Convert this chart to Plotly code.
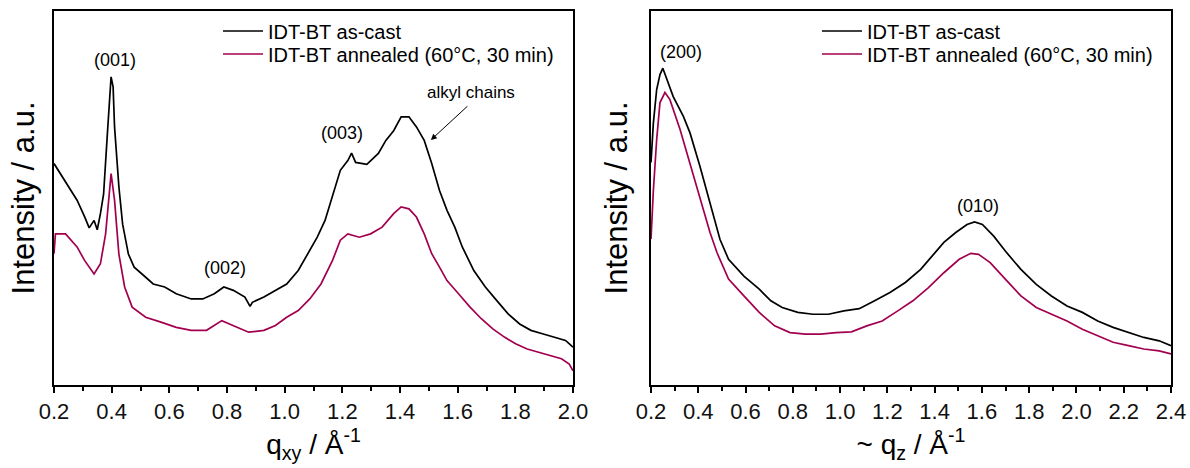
import plotly.graph_objects as go

# ---------------- data (arbitrary intensity units) ----------------
qxy_cast = [0.200, 0.222, 0.253, 0.280, 0.306, 0.322, 0.339, 0.350, 0.361, 0.372, 0.385, 0.398, 0.405,
            0.410, 0.425, 0.438, 0.458, 0.478, 0.518, 0.544, 0.584, 0.624, 0.676, 0.716, 0.756, 0.789,
            0.822, 0.862, 0.880, 0.888, 0.928, 0.968, 1.007, 1.047, 1.074, 1.113, 1.140, 1.166, 1.193,
            1.219, 1.232, 1.246, 1.285, 1.325, 1.351, 1.378, 1.404, 1.431, 1.457, 1.484, 1.510, 1.537, 1.563,
            1.590, 1.616, 1.656, 1.696, 1.735, 1.775, 1.815, 1.854, 1.894, 1.934, 1.974, 2.000]
int_xy_cast = [59.2, 56.5, 53.0, 49.4, 45.0, 42.0, 44.0, 41.5, 45.8, 51.0, 67.0, 82.4, 79.7,
               69.0, 53.0, 43.0, 35.0, 31.5, 28.8, 27.0, 26.2, 24.4, 23.0, 23.0, 24.4, 26.2,
               25.3, 23.5, 21.0, 22.1, 23.5, 25.3, 27.0, 30.6, 34.2, 39.5, 44.0, 50.3, 57.4,
               60.0, 62.0, 59.5, 59.0, 61.9, 65.4, 68.0, 71.7, 71.7, 69.0, 65.4, 59.2, 52.0, 46.7,
               42.2, 36.9, 30.6, 26.2, 22.6, 19.0, 16.3, 14.6, 13.7, 12.8, 11.9, 10.1]

qxy_ann = [0.200, 0.205, 0.240, 0.280, 0.306, 0.339, 0.361, 0.379, 0.398, 0.410, 0.425, 0.445, 0.471,
           0.518, 0.571, 0.624, 0.676, 0.729, 0.782, 0.822, 0.875, 0.928, 0.968, 1.007, 1.047, 1.087,
           1.126, 1.166, 1.193, 1.219, 1.259, 1.298, 1.338, 1.378, 1.404, 1.431, 1.457, 1.484, 1.510,
           1.537, 1.563, 1.603, 1.643, 1.682, 1.722, 1.762, 1.801, 1.841, 1.880, 1.920, 1.960, 1.987, 2.000]
int_xy_ann = [35.1, 40.4, 40.4, 36.9, 33.3, 29.7, 32.4, 40.4, 56.5, 49.4, 35.0, 26.2, 20.8,
              18.1, 16.8, 15.4, 14.6, 14.6, 17.2, 15.9, 14.1, 14.6, 15.9, 18.1, 19.9, 23.0,
              27.0, 33.3, 38.7, 40.4, 39.5, 40.4, 42.2, 45.8, 47.6, 47.1, 44.9, 40.4, 35.1,
              31.5, 27.9, 24.4, 20.8, 17.7, 15.0, 12.8, 11.0, 9.6, 8.75, 7.9, 7.0, 5.6, 3.8]

qz_cast = [0.200, 0.210, 0.224, 0.238, 0.250, 0.294, 0.337, 0.365, 0.407, 0.450, 0.492, 0.528, 0.593,
           0.658, 0.707, 0.755, 0.821, 0.885, 0.951, 1.016, 1.081, 1.146, 1.211, 1.276, 1.341, 1.390,
           1.439, 1.488, 1.537, 1.569, 1.602, 1.650, 1.699, 1.765, 1.830, 1.894, 1.960, 2.025, 2.090,
           2.155, 2.220, 2.285, 2.350, 2.400]
int_z_cast = [59.5, 70.0, 79.0, 83.0, 84.7, 77.1, 71.8, 67.4, 58.5, 48.7, 38.9, 33.6, 29.1,
              25.6, 22.5, 20.7, 19.4, 18.9, 18.9, 19.8, 20.4, 22.5, 24.7, 27.4, 30.9, 34.5,
              38.1, 40.7, 42.9, 43.6, 42.9, 39.8, 35.8, 30.9, 26.9, 23.8, 21.1, 19.4, 17.1,
              15.4, 14.0, 12.7, 11.8, 10.5]

qz_ann = [0.200, 0.210, 0.224, 0.238, 0.259, 0.280, 0.323, 0.365, 0.407, 0.450, 0.479, 0.528, 0.593,
          0.658, 0.723, 0.788, 0.853, 0.918, 0.983, 1.048, 1.113, 1.178, 1.244, 1.308, 1.374, 1.439,
          1.504, 1.553, 1.586, 1.635, 1.699, 1.765, 1.830, 1.894, 1.960, 2.025, 2.090, 2.155, 2.220,
          2.285, 2.350, 2.400]
int_z_ann = [39.0, 52.0, 65.6, 75.5, 78.2, 76.3, 68.3, 59.4, 50.5, 40.7, 35.4, 28.3, 23.8,
             19.4, 15.8, 14.0, 13.6, 13.6, 14.0, 14.2, 15.8, 17.1, 19.8, 22.5, 26.0, 30.0,
             33.6, 35.2, 34.9, 32.7, 28.3, 23.8, 20.7, 18.9, 17.1, 14.9, 13.1, 11.4, 10.5,
             9.6, 9.1, 8.3]

series_names = ["IDT-BT as-cast", "IDT-BT annealed (60°C, 30 min)"]
xy_ticks = [0.2, 0.4, 0.6, 0.8, 1.0, 1.2, 1.4, 1.6, 1.8, 2.0]
z_ticks = [0.2, 0.4, 0.6, 0.8, 1.0, 1.2, 1.4, 1.6, 1.8, 2.0, 2.2, 2.4]

# peak labels
left_labels = [("(001)", 0.41, 86.9), ("(002)", 0.793, 31.3), ("(003)", 1.20, 67.4)]
right_labels = [("(200)", 0.327, 89.0), ("(010)", 1.582, 47.8)]

# ---------------- figure ----------------
BLACK = "#000000"
MAG = "#A2004F"
FONT = "Liberation Sans, Arial, sans-serif"
W, H = 1190, 468

fig = go.Figure()
fig.add_trace(go.Scatter(x=qxy_cast, y=int_xy_cast, mode="lines", name=series_names[0],
                         line=dict(color=BLACK, width=1.7), xaxis="x", yaxis="y", legend="legend"))
fig.add_trace(go.Scatter(x=qxy_ann, y=int_xy_ann, mode="lines", name=series_names[1],
                         line=dict(color=MAG, width=1.7), xaxis="x", yaxis="y", legend="legend2"))
fig.add_trace(go.Scatter(x=qz_cast, y=int_z_cast, mode="lines", name=series_names[0],
                         line=dict(color=BLACK, width=1.7), xaxis="x2", yaxis="y2", legend="legend3"))
fig.add_trace(go.Scatter(x=qz_ann, y=int_z_ann, mode="lines", name=series_names[1],
                         line=dict(color=MAG, width=1.7), xaxis="x2", yaxis="y2", legend="legend4"))

xcommon = dict(showline=True, linecolor="black", linewidth=2, mirror=True,
               ticks="outside", ticklen=6, tickwidth=2, tickcolor="black",
               showgrid=False, zeroline=False, automargin=False,
               tickfont=dict(family=FONT, size=22, color="#111"),
               minor=dict(ticks="outside", ticklen=4, tickwidth=2, tickcolor="black", dtick=0.1),
               title_font=dict(family=FONT, size=28, color="black"), title_standoff=10)
ycommon = dict(showline=True, linecolor="black", linewidth=2, mirror=True,
               showticklabels=False, ticks="", showgrid=False, zeroline=False,
               automargin=False, range=[0, 100],
               title_font=dict(family=FONT, size=31, color="black"))


def leg(xpx, ypx):
    return dict(x=xpx / W, y=1 - ypx / H, xanchor="left", yanchor="middle",
                bgcolor="rgba(0,0,0,0)", borderwidth=0,
                font=dict(family=FONT, size=20, color="black"), itemwidth=40)


fig.update_layout(
    width=W, height=H, margin=dict(l=0, r=0, t=0, b=0),
    paper_bgcolor="white", plot_bgcolor="white",
    font=dict(family=FONT, color="black"),
    xaxis=dict(domain=[54/W, 573/W], anchor="y", range=[0.2, 2.0],
               tickvals=xy_ticks, ticktext=[f"{v:.1f}" for v in xy_ticks],
               title_text="q<sub>xy</sub> / Å<sup>-1</sup>", **xcommon),
    yaxis=dict(domain=[0.1775, 0.9765], anchor="x",
               title_text="Intensity / a.u.", title_standoff=8, **ycommon),
    xaxis2=dict(domain=[651/W, 1171/W], anchor="y2", range=[0.2, 2.4],
                tickvals=z_ticks, ticktext=[f"{v:.1f}" for v in z_ticks],
                title_text="~ q<sub>z</sub> / Å<sup>-1</sup>", **xcommon),
    yaxis2=dict(domain=[0.1775, 0.9765], anchor="x2",
                title_text="Intensity / a.u.", title_standoff=12, **ycommon),
    legend=leg(218, 31), legend2=leg(218, 54),
    legend3=leg(817, 31), legend4=leg(817, 54),
    showlegend=True,
)

annotations = []
for txt, xv, yv in left_labels:
    annotations.append(dict(text=txt, x=xv, y=yv, xref="x", yref="y", showarrow=False,
                            font=dict(family=FONT, size=18, color="black")))
for txt, xv, yv in right_labels:
    annotations.append(dict(text=txt, x=xv, y=yv, xref="x2", yref="y2", showarrow=False,
                            font=dict(family=FONT, size=18, color="black")))
annotations.append(dict(text="alkyl chains", x=1.646, y=78.3, xref="x", yref="y", showarrow=False,
                        font=dict(family=FONT, size=17, color="black")))
annotations.append(dict(text="", x=1.507, y=65.5, xref="x", yref="y",
                        ax=1.639, ay=74.9, axref="x", ayref="y", showarrow=True,
                        arrowhead=2, arrowsize=1.2, arrowwidth=1, arrowcolor="black"))
fig.update_layout(annotations=annotations)

fig.write_html("out.html")
